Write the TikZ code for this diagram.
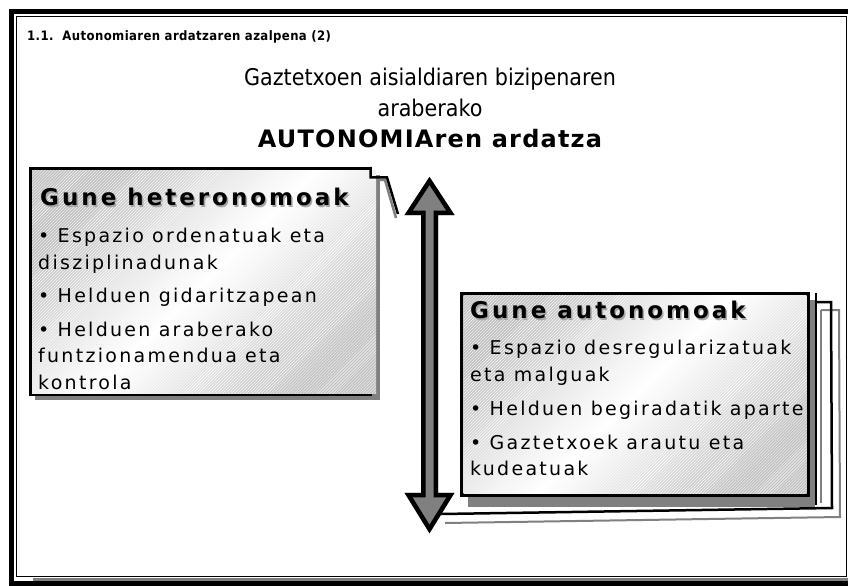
\documentclass[tikz,border=0pt]{standalone}
\usepackage{fontspec}
\setmainfont{DejaVu Sans}
\newfontfamily\titlefont[FakeStretch=0.9, LetterSpace=3]{DejaVu Sans Bold}
\newfontfamily\headingfont[FakeStretch=0.9]{DejaVu Sans}
\newfontfamily\headingbold[LetterSpace=5]{DejaVu Sans Bold}
\newfontfamily\boxfont[LetterSpace=12]{DejaVu Sans}
\newfontfamily\boxheadfont[LetterSpace=13]{DejaVu Sans Bold}
\usetikzlibrary{patterns, calc}

\begin{document}
\begin{tikzpicture}[x=1bp, y=-1bp,
    boxfill/.style={top color=gray!50, bottom color=gray!50, middle color=white, shading angle=45},
    hatch/.style={pattern=north east lines, pattern color=white},
    boxhead/.style={anchor=north west, inner sep=0pt, font=\boxheadfont\fontsize{23bp}{26bp}\selectfont},
    boxtext/.style={anchor=north west, inner sep=0pt, align=left, font=\boxfont\fontsize{19bp}{26.5bp}\selectfont}]
    \useasboundingbox (0,0) rectangle (848,586);

    % Slide frame
    \draw[line width=5bp] (11.5,11.5) rectangle (853,583.5);
    \draw[line width=1.5bp] (16.5,16.5) rectangle (846.5,576.5);
    \draw[gray, line width=2.5bp] (33,579.5) -- (848,579.5);

    % Title and heading
    \node[anchor=west, inner sep=0pt, font=\titlefont\fontsize{13bp}{15bp}\selectfont] (title) at (27,37) {1.1.\ \ Autonomiaren ardatzaren azalpena (2)};
    \node[align=center, font=\headingfont\fontsize{23bp}{31bp}\selectfont] (heading) at (430,108)
        {Gaztetxoen aisialdiaren bizipenaren\\ araberako\\ {\headingbold\fontsize{24bp}{31bp}\selectfont AUTONOMIAren ardatza}};

    % Left box (heteronomous)
    \fill[gray] (35,175) rectangle (380,400);
    \fill[black] (29,167) rectangle (372,396);
    \shade[boxfill] (32,171) rectangle (376,393);
    \fill[hatch] (32,171) rectangle (376,393);
    \draw[gray, line width=2.5bp] (377,180) -- (385,180) -- (396,218);
    \draw[line width=2.5bp] (370.5,167) -- (370.5,177.5) -- (387,177.5) -- (398,214);
    \node[boxhead, gray!70] at (41.5,189.5) {Gune heteronomoak};
    \node[boxhead] (hetero) at (40,188) {Gune heteronomoak};
    \node[boxtext] (heterolist) at (38,228) {• Espazio ordenatuak eta\\ disziplinadunak\\[7bp]
        • Helduen gidaritzapean\\[7bp] • Helduen araberako\\ funtzionamendua eta\\ kontrola};

    % Right box (autonomous) with stacked pages
    \draw[gray, line width=2bp] (821,310) -- (821,503);
    \draw[gray, line width=2bp] (821,310) -- (839,310) -- (840,517) -- (445,523);
    \draw[line width=2.5bp] (816,302) -- (831,302) -- (832,508) -- (441,514);
    \draw[line width=2.5bp] (816,293) -- (816,505);
    \fill[gray] (468,300) rectangle (815,507);
    \fill[black] (460,292) rectangle (810,497);
    \shade[boxfill] (463.5,295.5) rectangle (806.5,493.5);
    \fill[hatch] (463.5,295.5) rectangle (806.5,493.5);
    \node[boxhead, gray!70] at (471.5,302.5) {Gune autonomoak};
    \node[boxhead] (auto) at (470,301) {Gune autonomoak};
    \node[boxtext] (autolist) at (470,340) {• Espazio desregularizatuak\\ eta malguak\\[7.5bp]
        • Helduen begiradatik aparte\\[7.5bp] • Gaztetxoek arautu eta\\ kudeatuak};

    % Autonomy axis (double arrow with shadow)
    \coordinate (axtop) at (429.5,181);
    \coordinate (axbot) at (429.5,529);
    \foreach \dx/\dy/\col in {-6/7/gray, 0/0/black} {
        \draw[fill=gray, draw=\col, line width=4.5bp, line join=miter, shift={(\dx,\dy)}]
            (axtop) -- ++(21,32) -- ++(-14.75,0) -- ($(axbot)+(6.25,-34)$) -- ++(14.75,0)
            -- (axbot) -- ++(-21,-34) -- ++(14.75,0) -- ($(axtop)+(-6.25,32)$) -- ++(-14.75,0) -- cycle;
    }
\end{tikzpicture}
\end{document}
